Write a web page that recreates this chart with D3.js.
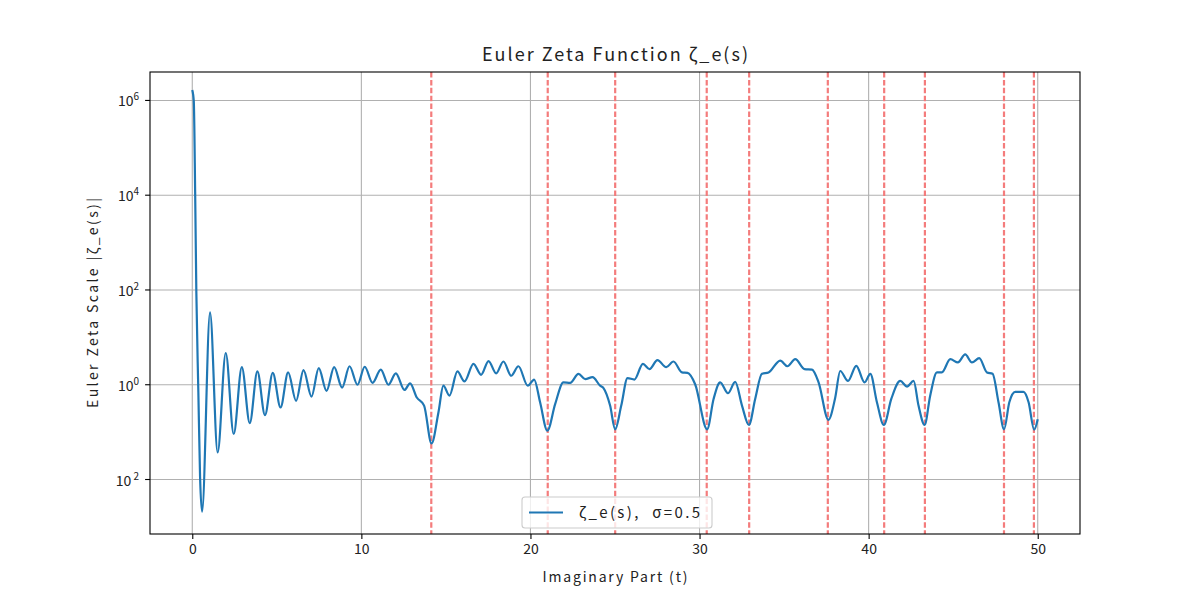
<!DOCTYPE html>
<html lang="en">
<head>
    <meta charset="UTF-8">
    <title>Euler Zeta Function</title>
    <script src="https://cdn.jsdelivr.net/npm/d3@7"></script>
    <style>
        body { margin: 0; background: #fff; }
        text { font-family: "Noto Sans CJK JP", "DejaVu Sans", sans-serif; fill: #222; }
    </style>
</head>
<body>

<script>

    // values: t and log10 |ζ_e(s)|
    const tValues = [
        0.00, 0.09, 0.17, 0.24, 0.36, 0.46, 0.58, 1.05, 1.50, 1.98,
        2.45, 2.93, 3.40, 3.85, 4.30, 4.76, 5.22, 5.67, 6.14, 6.58,
        7.05, 7.48, 7.94, 8.39, 8.86, 9.30, 9.77, 10.20, 10.66, 11.15,
        11.60, 12.04, 12.55, 12.88, 13.28, 13.71, 14.15, 14.56, 14.85, 15.21,
        15.68, 16.10, 16.63, 17.08, 17.52, 17.97, 18.40, 18.86, 19.29, 19.84,
        20.22, 20.57, 21.00, 21.46, 21.95, 22.35, 22.84, 23.24, 23.67, 24.12,
        24.32, 24.71, 25.01, 25.37, 25.74, 26.15, 26.65, 27.04, 27.51, 28.03,
        28.46, 28.96, 29.29, 29.74, 30.45, 30.83, 31.22, 31.68, 32.11, 32.51,
        32.92, 33.29, 33.69, 34.08, 34.77, 35.20, 35.66, 36.21, 36.65, 37.04,
        37.62, 38.02, 38.32, 38.78, 39.27, 39.76, 40.10, 40.49, 40.90, 41.34,
        41.87, 42.27, 42.66, 42.95, 43.31, 43.64, 44.04, 44.33, 44.83, 45.28,
        45.71, 46.11, 46.54, 47.00, 47.33, 47.68, 48.01, 48.32, 48.67, 49.16,
        49.46, 49.79, 50.00
    ];
    const logMagnitude = [
        6.22, 5.98, 4.07, 1.96, -0.16, -1.93, -2.68, 1.53, -1.43, 0.67,
        -1.04, 0.37, -0.81, 0.28, -0.64, 0.25, -0.48, 0.26, -0.34, 0.31,
        -0.25, 0.35, -0.13, 0.37, -0.06, 0.39, 0.00, 0.38, 0.04, 0.32,
        0.00, 0.24, -0.11, 0.03, -0.27, -0.44, -1.24, -0.58, -0.02, -0.23,
        0.28, 0.07, 0.44, 0.21, 0.50, 0.24, 0.49, 0.19, 0.39, -0.02,
        0.11, -0.37, -0.97, -0.41, 0.05, 0.04, 0.23, 0.12, 0.16, -0.02,
        -0.07, -0.44, -0.94, -0.44, 0.14, 0.11, 0.44, 0.33, 0.52, 0.37,
        0.49, 0.26, 0.25, 0.01, -0.94, -0.30, 0.05, -0.18, 0.06, -0.44,
        -0.85, -0.30, 0.23, 0.26, 0.51, 0.39, 0.54, 0.33, 0.32, 0.05,
        -0.74, -0.28, 0.29, 0.08, 0.40, 0.05, 0.23, -0.37, -0.85, -0.30,
        0.08, -0.04, 0.08, -0.44, -0.85, -0.23, 0.26, 0.26, 0.54, 0.47,
        0.64, 0.47, 0.56, 0.26, 0.23, -0.37, -0.94, -0.37, -0.15, -0.15,
        -0.37, -0.95, -0.73
    ];

    // non-trivial zeros of the Riemann zeta function (imaginary parts)
    const zetaZeros = [14.1347, 21.0220, 25.0109, 30.4249, 32.9351, 37.5862, 40.9187, 43.3271, 48.0052, 49.7738];

    const xTicks = [0, 10, 20, 30, 40, 50];
    const yTickExponents = [-2, 0, 2, 4, 6];
    const yTickSupers = [" 2", "0", "2", "4", "6"];

    const width = 1200;
    const height = 600;
    const margin = {top: 72, right: 120, bottom: 66, left: 150};

    const x = d3.scaleLinear()
        .domain([-2.5, 52.5])
        .range([margin.left, width - margin.right]);

    const y = d3.scaleLog()
        .domain([Math.pow(10, -3.15), Math.pow(10, 6.6)])
        .range([height - margin.bottom, margin.top]);

    const data = tValues.map((t, i) => ({t, v: Math.pow(10, logMagnitude[i])}));

    const svg = d3.select("body").append("svg")
        .attr("width", width)
        .attr("height", height);

    svg.append("defs").append("clipPath").attr("id", "clip")
        .append("rect")
        .attr("x", margin.left).attr("y", margin.top)
        .attr("width", width - margin.left - margin.right)
        .attr("height", height - margin.top - margin.bottom);

    // grid
    const grid = svg.append("g").attr("stroke", "#b0b0b0").attr("stroke-width", 1.1);
    grid.selectAll(".gx").data(xTicks).join("line")
        .attr("x1", d => x(d)).attr("x2", d => x(d))
        .attr("y1", margin.top).attr("y2", height - margin.bottom);
    grid.selectAll(".gy").data(yTickExponents).join("line")
        .attr("x1", margin.left).attr("x2", width - margin.right)
        .attr("y1", d => y(Math.pow(10, d))).attr("y2", d => y(Math.pow(10, d)));

    // zero markers
    svg.append("g")
        .attr("stroke", "#f47c7c")
        .attr("stroke-width", 2.2)
        .attr("stroke-dasharray", "5.5,2.4")
        .selectAll("line")
        .data(zetaZeros)
        .join("line")
        .attr("x1", d => x(d)).attr("x2", d => x(d))
        .attr("y1", margin.top).attr("y2", height - margin.bottom);

    // curve
    const line = d3.line()
        .x(d => x(d.t))
        .y(d => y(d.v))
        .curve(d3.curveMonotoneX);

    svg.append("path")
        .datum(data)
        .attr("clip-path", "url(#clip)")
        .attr("fill", "none")
        .attr("stroke", "#1f77b4")
        .attr("stroke-width", 2.2)
        .attr("stroke-linejoin", "round")
        .attr("d", line);

    // frame
    svg.append("rect")
        .attr("x", margin.left).attr("y", margin.top)
        .attr("width", width - margin.left - margin.right)
        .attr("height", height - margin.top - margin.bottom)
        .attr("fill", "none")
        .attr("stroke", "#000")
        .attr("stroke-width", 1.1);

    // x axis
    const xAxis = svg.append("g")
        .attr("transform", `translate(0,${height - margin.bottom})`)
        .call(d3.axisBottom(x).tickValues(xTicks).tickSize(4.9).tickPadding(5).tickSizeOuter(0));
    xAxis.select(".domain").remove();
    xAxis.selectAll("line").attr("stroke", "#000").attr("stroke-width", 1.1);
    xAxis.selectAll("text").attr("font-size", 14).style("font-family", "'Noto Sans CJK JP', sans-serif").attr("fill", "#222");

    // y axis (log, labels as 10^n)
    const yAxis = svg.append("g").attr("transform", `translate(${margin.left},0)`);
    yAxis.selectAll("line").data(yTickExponents).join("line")
        .attr("x1", -4.9).attr("x2", 0)
        .attr("y1", d => y(Math.pow(10, d))).attr("y2", d => y(Math.pow(10, d)))
        .attr("stroke", "#000").attr("stroke-width", 1.1);
    const ylab = yAxis.selectAll("text").data(yTickExponents).join("text")
        .attr("x", -11)
        .attr("y", d => y(Math.pow(10, d)) + 6)
        .attr("text-anchor", "end")
        .attr("font-size", 14)
        .style("white-space", "pre");
    ylab.append("tspan").text("10");
    ylab.append("tspan")
        .attr("dy", -6)
        .attr("font-size", 10)
        .text((d, i) => yTickSupers[i]);

    // title and axis labels
    svg.append("text")
        .attr("x", (margin.left + width - margin.right) / 2)
        .attr("y", 61)
        .attr("text-anchor", "middle")
        .attr("font-size", 18)
        .attr("textLength", 266)
        .attr("lengthAdjust", "spacing")
        .text("Euler Zeta Function ζ_e(s)");

    svg.append("text")
        .attr("x", (margin.left + width - margin.right) / 2)
        .attr("y", 582)
        .attr("text-anchor", "middle")
        .attr("font-size", 14)
        .attr("textLength", 145)
        .attr("lengthAdjust", "spacing")
        .text("Imaginary Part (t)");

    svg.append("text")
        .attr("transform", `translate(98,${(margin.top + height - margin.bottom) / 2}) rotate(-90)`)
        .attr("text-anchor", "middle")
        .attr("font-size", 14)
        .attr("textLength", 210)
        .attr("lengthAdjust", "spacing")
        .text("Euler Zeta Scale |ζ_e(s)|");

    // legend
    const legend = svg.append("g");
    legend.append("rect")
        .attr("x", 522).attr("y", 497)
        .attr("width", 190).attr("height", 31)
        .attr("rx", 3)
        .attr("fill", "#fff").attr("fill-opacity", 0.8)
        .attr("stroke", "#cccccc").attr("stroke-width", 1.1);
    legend.append("line")
        .attr("x1", 529).attr("x2", 563)
        .attr("y1", 512.5).attr("y2", 512.5)
        .attr("stroke", "#1f77b4").attr("stroke-width", 2.2);
    legend.append("text")
        .attr("x", 579).attr("y", 518)
        .attr("font-size", 15)
        .attr("textLength", 121)
        .attr("lengthAdjust", "spacing")
        .style("white-space", "pre")
        .text("ζ_e(s),  σ=0.5");

</script>

</body>
</html>
